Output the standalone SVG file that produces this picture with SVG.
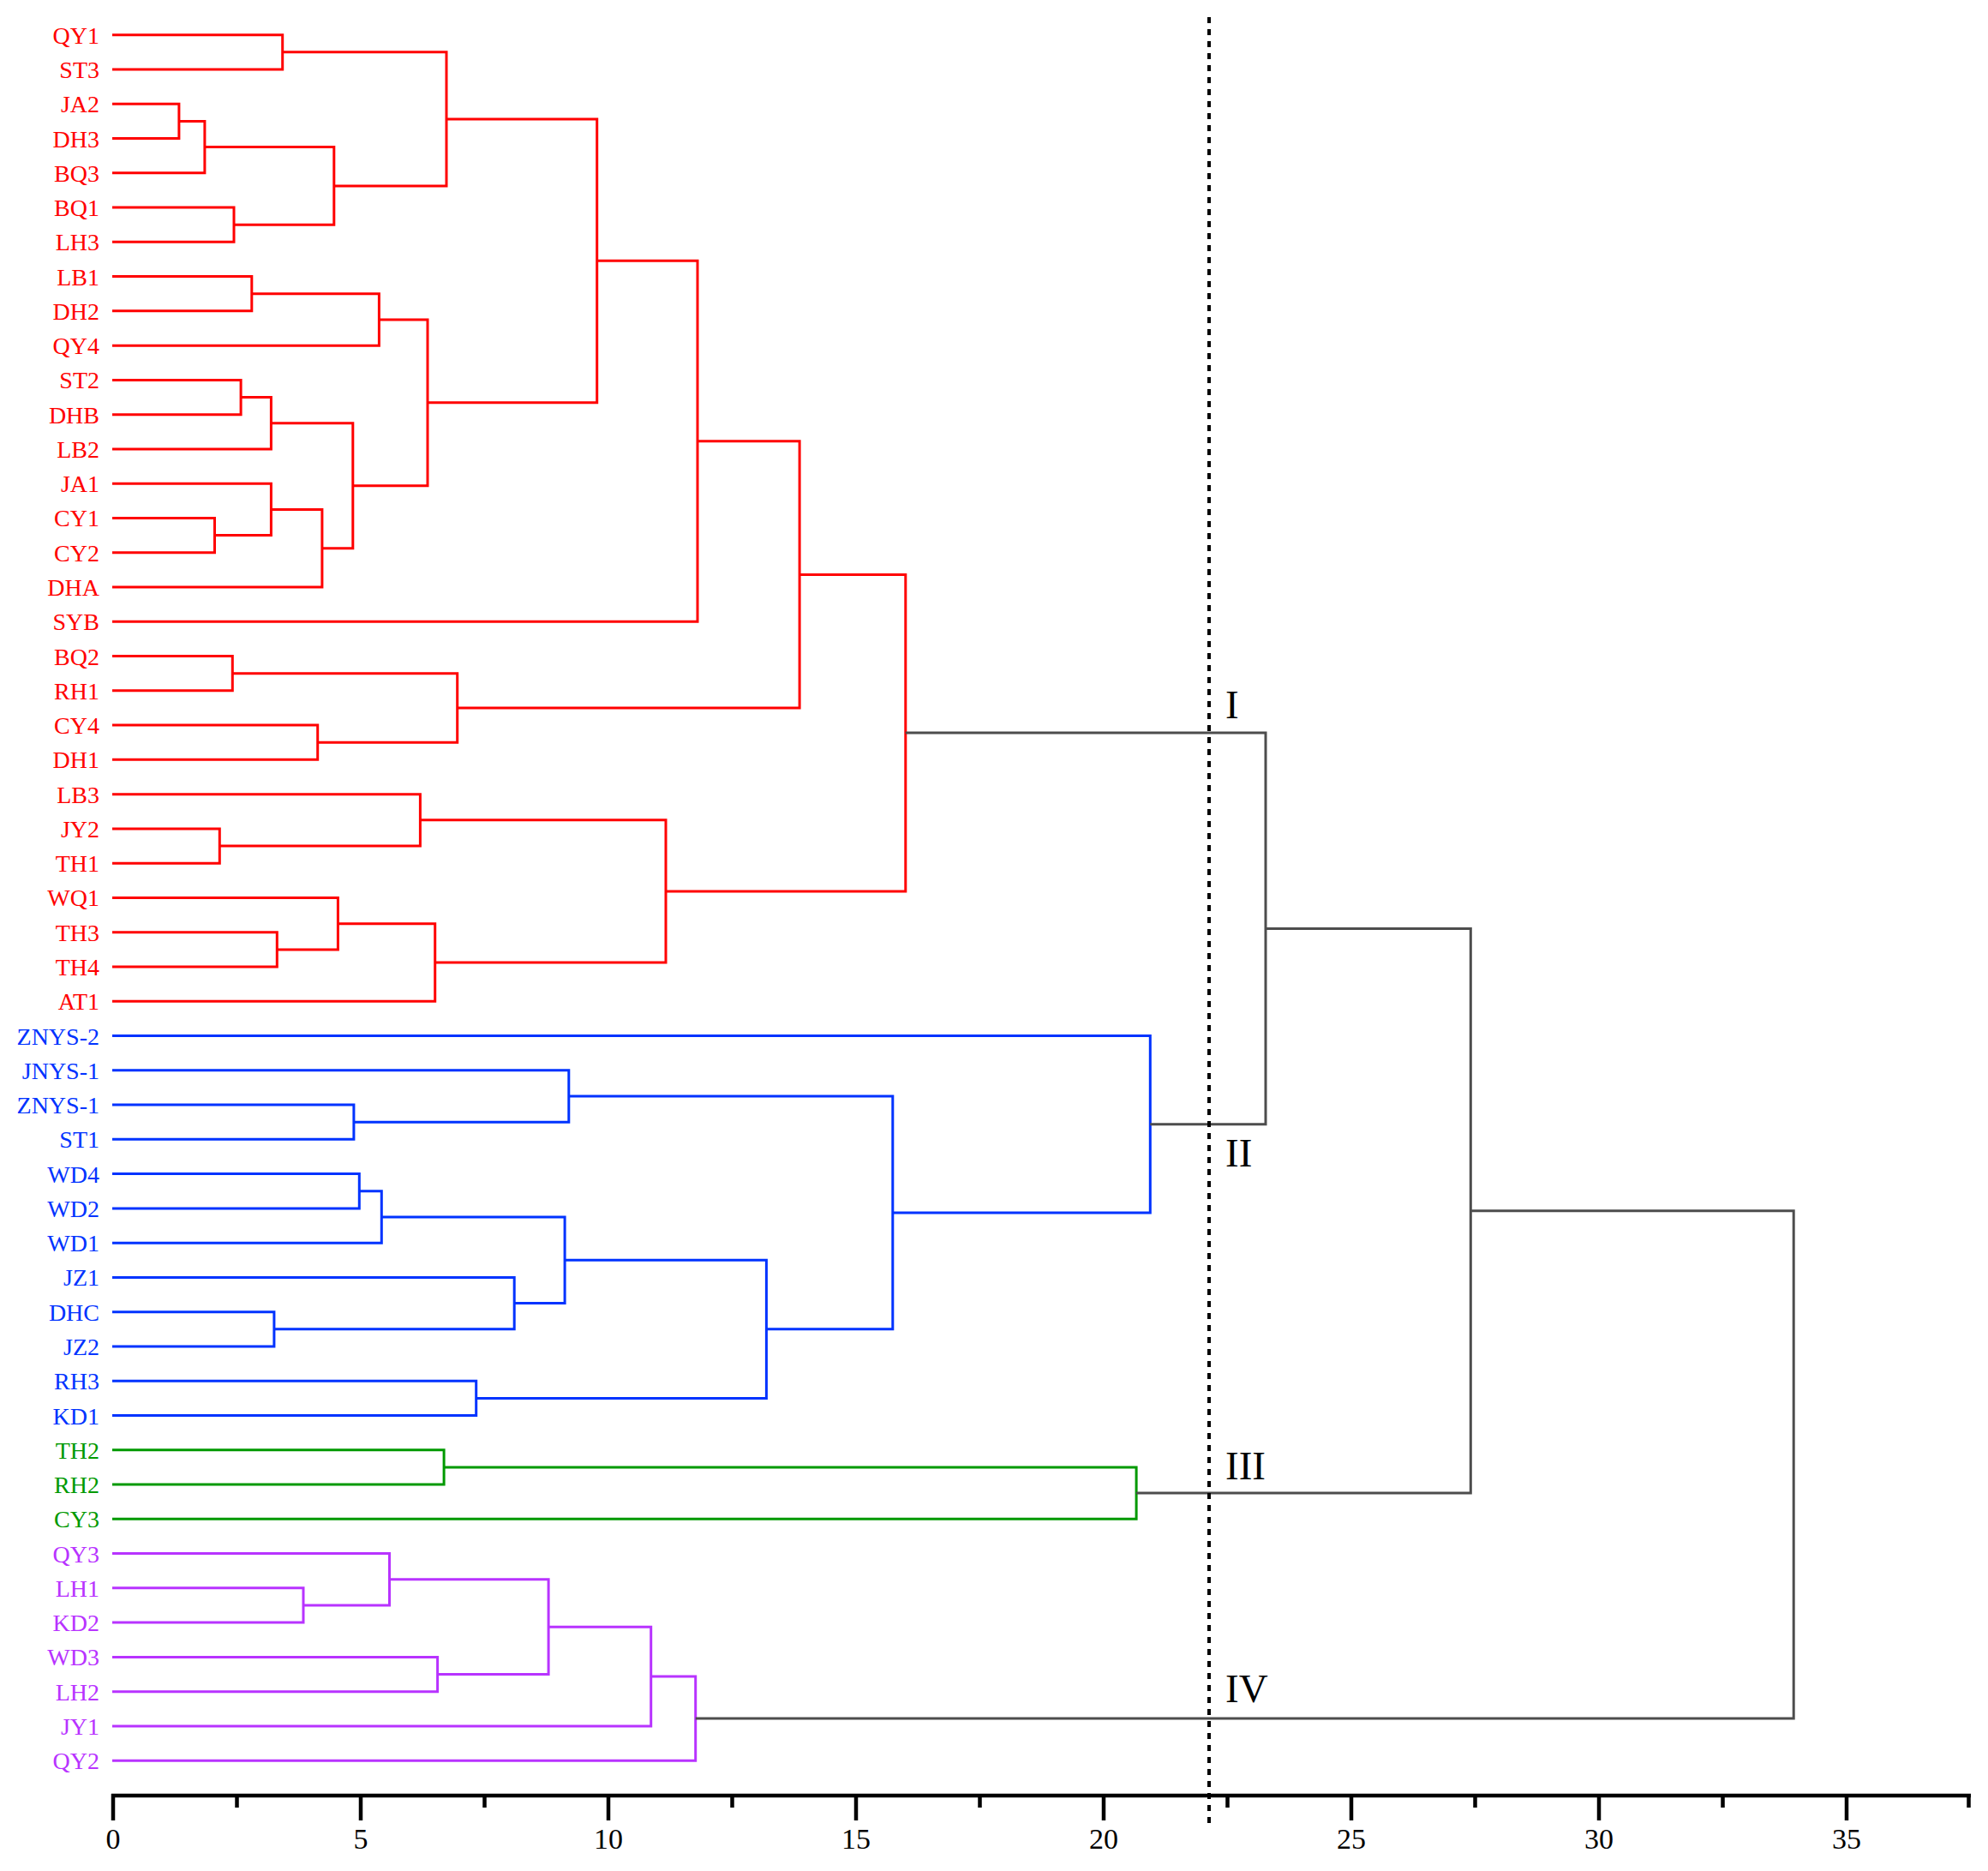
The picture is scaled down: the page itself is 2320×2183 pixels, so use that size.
<svg xmlns="http://www.w3.org/2000/svg" width="2320" height="2183" viewBox="0 0 2320 2183">
<style>
.lk{fill:none;stroke-width:3;stroke-linejoin:miter;stroke-linecap:butt}
.r{stroke:#ff0000}.b{stroke:#0033ff}.g{stroke:#009900}.p{stroke:#b833ff}.k{stroke:#4d4d4d}
.lb{font-family:"Liberation Serif","Times New Roman",serif;font-size:28px;text-anchor:end}
.tr{fill:#ff0000}.tb{fill:#0033ff}.tg{fill:#009900}.tp{fill:#b833ff}
.rom{font-family:"Liberation Serif","Times New Roman",serif;font-size:47px;fill:#000}
.tick{font-family:"Liberation Serif","Times New Roman",serif;font-size:34px;fill:#000;text-anchor:middle}
.ax{stroke:#000;stroke-width:4.5;fill:none}
</style>
<rect width="2320" height="2183" fill="#fff"/>
<g id="labels">
<g class="lb tr">
<text x="116" y="50.7">QY1</text>
<text x="116" y="90.97">ST3</text>
<text x="116" y="131.24">JA2</text>
<text x="116" y="171.51">DH3</text>
<text x="116" y="211.78">BQ3</text>
<text x="116" y="252.05">BQ1</text>
<text x="116" y="292.32">LH3</text>
<text x="116" y="332.59">LB1</text>
<text x="116" y="372.86">DH2</text>
<text x="116" y="413.13">QY4</text>
<text x="116" y="453.4">ST2</text>
<text x="116" y="493.67">DHB</text>
<text x="116" y="533.94">LB2</text>
<text x="116" y="574.21">JA1</text>
<text x="116" y="614.48">CY1</text>
<text x="116" y="654.75">CY2</text>
<text x="116" y="695.02">DHA</text>
<text x="116" y="735.29">SYB</text>
<text x="116" y="775.56">BQ2</text>
<text x="116" y="815.83">RH1</text>
<text x="116" y="856.1">CY4</text>
<text x="116" y="896.37">DH1</text>
<text x="116" y="936.64">LB3</text>
<text x="116" y="976.91">JY2</text>
<text x="116" y="1017.18">TH1</text>
<text x="116" y="1057.45">WQ1</text>
<text x="116" y="1097.72">TH3</text>
<text x="116" y="1137.99">TH4</text>
<text x="116" y="1178.26">AT1</text>
</g>
<g class="lb tb">
<text x="116" y="1218.53">ZNYS-2</text>
<text x="116" y="1258.8">JNYS-1</text>
<text x="116" y="1299.07">ZNYS-1</text>
<text x="116" y="1339.34">ST1</text>
<text x="116" y="1379.61">WD4</text>
<text x="116" y="1419.88">WD2</text>
<text x="116" y="1460.15">WD1</text>
<text x="116" y="1500.42">JZ1</text>
<text x="116" y="1540.69">DHC</text>
<text x="116" y="1580.96">JZ2</text>
<text x="116" y="1621.23">RH3</text>
<text x="116" y="1661.5">KD1</text>
</g>
<g class="lb tg">
<text x="116" y="1701.77">TH2</text>
<text x="116" y="1742.04">RH2</text>
<text x="116" y="1782.31">CY3</text>
</g>
<g class="lb tp">
<text x="116" y="1822.58">QY3</text>
<text x="116" y="1862.85">LH1</text>
<text x="116" y="1903.12">KD2</text>
<text x="116" y="1943.39">WD3</text>
<text x="116" y="1983.66">LH2</text>
<text x="116" y="2023.93">JY1</text>
<text x="116" y="2064.2">QY2</text>
</g>
</g>
<g id="connectors">
<g class="lk r">
<path d="M131 40.7 H329.7 V80.97 H131"/>
<path d="M131 121.24 H208.9 V161.51 H131"/>
<path d="M208.9 141.4 H238.9 V201.78 H131"/>
<path d="M131 242.05 H273 V282.32 H131"/>
<path d="M238.9 171.6 H389.8 V262.2 H273"/>
<path d="M329.7 60.8 H521 V216.9 H389.8"/>
<path d="M131 322.59 H293.8 V362.86 H131"/>
<path d="M293.8 342.7 H442.4 V403.13 H131"/>
<path d="M131 443.4 H281.1 V483.67 H131"/>
<path d="M281.1 463.5 H316.4 V523.94 H131"/>
<path d="M131 604.48 H250.5 V644.75 H131"/>
<path d="M131 564.21 H316.4 V624.6 H250.5"/>
<path d="M316.4 594.4 H375.9 V685.02 H131"/>
<path d="M316.4 493.7 H411.8 V639.7 H375.9"/>
<path d="M442.4 372.9 H499 V566.7 H411.8"/>
<path d="M521 138.9 H696.7 V469.8 H499"/>
<path d="M696.7 304.3 H814 V725.29 H131"/>
<path d="M131 765.56 H271.3 V805.83 H131"/>
<path d="M131 846.1 H370.7 V886.37 H131"/>
<path d="M271.3 785.7 H533.7 V866.2 H370.7"/>
<path d="M814 514.8 H933.1 V826 H533.7"/>
<path d="M131 966.91 H256.3 V1007.18 H131"/>
<path d="M131 926.64 H490.4 V987 H256.3"/>
<path d="M131 1087.72 H323.3 V1127.99 H131"/>
<path d="M131 1047.45 H394.4 V1107.9 H323.3"/>
<path d="M394.4 1077.7 H507.7 V1168.26 H131"/>
<path d="M490.4 956.8 H777 V1123 H507.7"/>
<path d="M933.1 670.4 H1056.8 V1039.9 H777"/>
</g>
<g class="lk b">
<path d="M131 1289.07 H412.9 V1329.34 H131"/>
<path d="M131 1248.8 H663.8 V1309.2 H412.9"/>
<path d="M131 1369.61 H419.3 V1409.88 H131"/>
<path d="M419.3 1389.7 H445.3 V1450.15 H131"/>
<path d="M131 1530.69 H319.9 V1570.96 H131"/>
<path d="M131 1490.42 H600.2 V1550.8 H319.9"/>
<path d="M445.3 1419.9 H659.1 V1520.6 H600.2"/>
<path d="M131 1611.23 H555.7 V1651.5 H131"/>
<path d="M659.1 1470.3 H894.4 V1631.4 H555.7"/>
<path d="M663.8 1279 H1041.8 V1550.8 H894.4"/>
<path d="M131 1208.53 H1342.3 V1414.9 H1041.8"/>
</g>
<g class="lk g">
<path d="M131 1691.77 H518.1 V1732.04 H131"/>
<path d="M518.1 1711.9 H1326.1 V1772.31 H131"/>
</g>
<g class="lk p">
<path d="M131 1852.85 H354 V1893.12 H131"/>
<path d="M131 1812.58 H454.5 V1873 H354"/>
<path d="M131 1933.39 H510.6 V1973.66 H131"/>
<path d="M454.5 1842.8 H640.1 V1953.5 H510.6"/>
<path d="M640.1 1898.2 H759.7 V2013.93 H131"/>
<path d="M759.7 1956 H811.7 V2054.2 H131"/>
</g>
<g class="lk k">
<path d="M1056.8 855.1 H1477 V1311.7 H1342.3"/>
<path d="M1477 1083.4 H1716.3 V1742.1 H1326.1"/>
<path d="M1716.3 1412.7 H2093.2 V2005.1 H811.7"/>
</g>
</g>
<g id="cutline">
<line x1="1411" y1="20" x2="1411" y2="2134" stroke="#000" stroke-width="4" stroke-dasharray="7 7"/>
</g>
<g id="cluster-labels" class="rom">
<text x="1430" y="837.5">I</text>
<text x="1430" y="1360.7">II</text>
<text x="1430" y="1726">III</text>
<text x="1430" y="1986">IV</text>
</g>
<g id="axis">
<path class="ax" d="M130 2095 H2300"/>
<path class="ax" d="M132 2093 V2124 M421 2093 V2124 M710 2093 V2124 M999 2093 V2124 M1288 2093 V2124 M1577 2093 V2124 M1866 2093 V2124 M2155 2093 V2124"/>
<path class="ax" d="M276.5 2093 V2109 M565.5 2093 V2109 M854.5 2093 V2109 M1143.5 2093 V2109 M1432.5 2093 V2109 M1721.5 2093 V2109 M2010.5 2093 V2109 M2297.5 2093 V2109"/>
<g class="tick">
<text x="132" y="2157">0</text>
<text x="421" y="2157">5</text>
<text x="710" y="2157">10</text>
<text x="999" y="2157">15</text>
<text x="1288" y="2157">20</text>
<text x="1577" y="2157">25</text>
<text x="1866" y="2157">30</text>
<text x="2155" y="2157">35</text>
</g>
</g>
</svg>
